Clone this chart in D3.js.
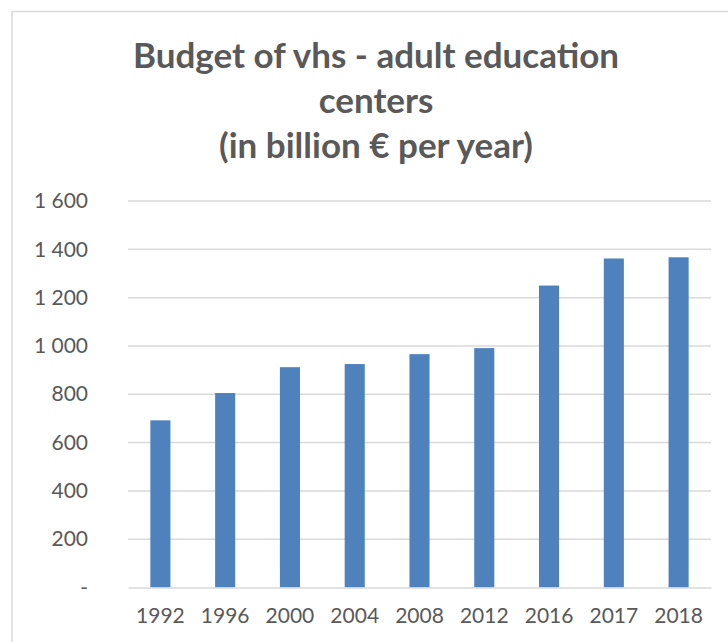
<!DOCTYPE html>
<html><head><meta charset="utf-8">
<script src="https://cdn.jsdelivr.net/npm/d3@7"></script>
<style>body{margin:0;background:#fff}svg{display:block}</style>
</head><body>
<script>
const categories = ["1992","1996","2000","2004","2008","2012","2016","2017","2018"];
const values = [692, 805, 912, 925, 966, 991, 1250, 1362, 1367];
const yTicks = [0,200,400,600,800,1000,1200,1400,1600];
const titleLines = ["Budget of vhs - adult education","centers","(in billion € per year)"];

(function(){
const W=728,H=642;
const svg=d3.select("body").append("svg").attr("width",W).attr("height",H);
svg.append("rect").attr("x",12).attr("y",11.5).attr("width",W+10).attr("height",H+10)
  .attr("fill","#fff").attr("stroke","#d9d9d9").attr("stroke-width",1.5);

const pLeft=128,pRight=711,pTop=201,pBottom=587.5;
const x=d3.scaleBand().domain(categories).range([pLeft,pRight]).paddingInner(0.69).paddingOuter(0.345);
const y=d3.scaleLinear().domain([0,1600]).range([pBottom,pTop]);
const font="Lato, 'Open Sans', sans-serif";

svg.append("g").selectAll("line").data(yTicks.filter(d=>d>0)).join("line")
  .attr("x1",pLeft).attr("x2",pRight).attr("y1",d=>y(d)).attr("y2",d=>y(d))
  .attr("stroke","#d9d9d9").attr("stroke-width",1.5);

svg.append("g").selectAll("rect").data(values).join("rect")
  .attr("x",(d,i)=>x(categories[i])).attr("width",x.bandwidth())
  .attr("y",d=>y(d)).attr("height",d=>y(0)-y(d)).attr("fill","#4f81bd");

const xa=svg.append("g").attr("transform",`translate(0,${pBottom})`).call(d3.axisBottom(x).tickSize(0).tickPadding(21));
xa.select(".domain").attr("stroke","#d9d9d9").attr("stroke-width",1.5);
xa.selectAll("text").attr("fill","#595959").attr("font-size",21).attr("font-family",font);

const fmt=d=> d===0?"-": d3.format(",")(d).replace(/,/g," ");
const ya=svg.append("g").attr("transform",`translate(${pLeft},0)`).call(d3.axisLeft(y).tickValues(yTicks).tickSize(0).tickPadding(40).tickFormat(fmt));
ya.select(".domain").remove();
ya.selectAll("text").attr("fill","#595959").attr("font-size",21).attr("font-family",font);

svg.append("g").selectAll("text").data(titleLines).join("text")
  .attr("x",376).attr("y",(d,i)=>68+i*45).attr("text-anchor","middle")
  .attr("font-family",font).attr("font-weight","bold").attr("font-size",35).attr("fill","#595959")
  .text(d=>d);
})();
</script>
</body></html>
